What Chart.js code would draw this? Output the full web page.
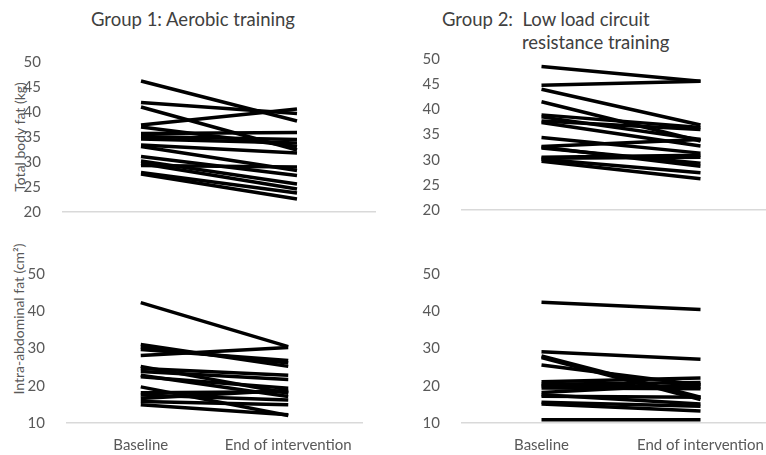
<!DOCTYPE html>
<html>
<head>
<meta charset="utf-8">
<script src="https://cdn.jsdelivr.net/npm/chart.js@4"></script>
<style>
  body { margin: 0; width: 766px; height: 455px; overflow: hidden; background: #fff; position: relative; font-family: Lato, sans-serif; color: #404040; }
  .box { position: absolute; }
  .title { position: absolute; font-size: 18.5px; white-space: pre; line-height: 23px; }
  .ytitle { position: absolute; font-size: 14px; color: #595959; transform: translate(-50%, -50%) rotate(-90deg); white-space: nowrap; }
</style>
</head>
<body>
<div class="title" style="left:91px; top:8px;">Group 1: Aerobic training</div>
<div class="title" style="left:442px; top:8px;">Group 2:  Low load circuit<br><span style="padding-left:80px">resistance training</span></div>
<div class="ytitle" style="left:19px; top:137px;">Total body fat (kg)</div>
<div class="ytitle" style="left:18px; top:319px;">Intra-abdominal fat (cm²)</div>

<div class="box" style="left:0; top:39px; width:380px; height:196px;"><canvas id="g1Fat"></canvas></div>
<div class="box" style="left:400px; top:36px; width:380px; height:197px;"><canvas id="g2Fat"></canvas></div>
<div class="box" style="left:0; top:251px; width:380px; height:204px;"><canvas id="g1Iaf"></canvas></div>
<div class="box" style="left:400px; top:251px; width:380px; height:204px;"><canvas id="g2Iaf"></canvas></div>

<script>
const timepoints = ['Baseline', 'End of intervention'];

// total body fat (kg)
const g1FatBase = [46.2, 41.9, 41.0, 37.4, 37.0, 35.7, 35.1, 34.6, 33.4, 33.1, 31.1, 30.2, 29.7, 29.3, 27.9, 27.6];
const g1FatEnd  = [38.2, 39.7, 32.4, 40.6, 33.1, 35.9, 34.5, 33.8, 31.8, 28.3, 27.3, 25.6, 24.6, 29.0, 23.8, 22.6];
const g2FatBase = [48.5, 44.8, 44.0, 41.5, 38.9, 38.5, 37.7, 37.4, 34.4, 32.6, 32.3, 32.5, 30.5, 30.3, 30.1, 29.7];
const g2FatEnd  = [45.6, 45.6, 36.9, 33.7, 36.4, 34.0, 36.0, 32.7, 31.3, 34.0, 29.3, 28.7, 30.9, 30.5, 27.4, 26.2];

// intra-abdominal fat (cm2)
const g1IafBase = [42.3, 31.1, 30.4, 29.7, 28.1, 25.2, 24.6, 23.8, 22.8, 22.4, 19.7, 18.1, 17.5, 16.6, 15.8, 14.9];
const g1IafEnd  = [30.5, 25.2, 26.1, 26.8, 30.3, 18.0, 22.8, 21.7, 17.1, 19.3, 12.0, 18.4, 16.2, 18.8, 14.9, 12.2];
const g2IafBase = [42.4, 29.1, 28.0, 27.6, 25.6, 21.1, 20.4, 20.0, 19.4, 18.2, 17.6, 17.2, 15.6, 15.1, 10.9];
const g2IafEnd  = [40.5, 27.1, 16.9, 16.3, 20.2, 22.1, 20.9, 19.6, 19.2, 20.4, 15.1, 16.9, 14.5, 13.2, 10.9];

const fatTicks = [20, 50, 5];
const iafTicks = [10, 50, 10];

Chart.defaults.font.family = 'Lato, sans-serif';
Chart.defaults.color = '#595959';

function makePanel(id, base, end, ticks, opts) {
  const datasets = base.map((b, i) => ({
    data: [b, end[i]],
    borderColor: '#000',
    borderWidth: 3.5,
    pointRadius: 0,
    tension: 0
  }));
  return new Chart(document.getElementById(id), {
    type: 'line',
    data: { labels: timepoints, datasets: datasets },
    options: {
      responsive: true,
      maintainAspectRatio: false,
      animation: false,
      layout: { padding: { top: 0, bottom: 0, right: opts.right } },
      plugins: { legend: { display: false }, tooltip: { enabled: false } },
      scales: {
        x: {
          offset: true,
          grid: { display: false },
          border: { color: '#d9d9d9', width: 1.5 },
          ticks: { display: opts.showX, font: { size: 15 }, padding: 5, color: '#595959' },
          afterFit: s => { s.height = opts.xHeight; }
        },
        y: {
          min: ticks[0], max: ticks[1],
          grid: { display: false },
          border: { display: false },
          ticks: { stepSize: ticks[2], font: { size: 15 }, padding: 14 },
          afterFit: s => { s.width = opts.yWidth; }
        }
      }
    }
  });
}

makePanel('g1Fat', g1FatBase, g1FatEnd, fatTicks, { right: 5, showX: false, xHeight: 0, yWidth: 63 });
makePanel('g2Fat', g2FatBase, g2FatEnd, fatTicks, { right: 0, showX: false, xHeight: 0, yWidth: 62 });
makePanel('g1Iaf', g1IafBase, g1IafEnd, iafTicks, { right: 18, showX: true, xHeight: 32, yWidth: 67 });
makePanel('g2Iaf', g2IafBase, g2IafEnd, iafTicks, { right: 0, showX: true, xHeight: 32, yWidth: 62 });
</script>
</body>
</html>
